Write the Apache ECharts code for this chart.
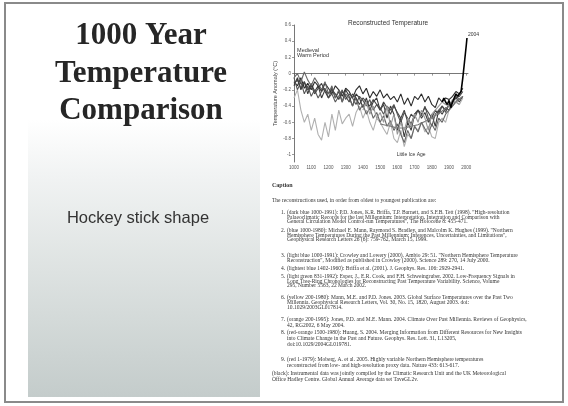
<!DOCTYPE html>
<html><head><meta charset="utf-8">
<script src="https://cdn.jsdelivr.net/npm/echarts@6/dist/echarts.min.js"></script>
<style>html,body{margin:0;padding:0;background:#fff}#c{width:568px;height:406px}</style>
</head><body><div id="c"></div><script>
// ---- data ----
const years = [1000,1020,1040,1060,1080,1100,1120,1140,1160,1180,
  1200,1220,1240,1260,1280,1300,1320,1340,1360,1380,
  1400,1420,1440,1460,1480,1500,1520,1540,1560,1580,
  1600,1620,1640,1660,1680,1700,1720,1740,1760,1780,
  1800,1820,1840,1860,1880,1900,1920,1940,1960,1980];
const jones1998 = [-0.15,-0.05,-0.20,-0.10,-0.25,-0.12,-0.22,-0.15,-0.30,-0.20,
  -0.25,-0.18,-0.30,-0.22,-0.35,-0.20,-0.28,-0.40,-0.25,-0.30,
  -0.42,-0.30,-0.45,-0.35,-0.30,-0.45,-0.38,-0.55,-0.40,-0.50,
  -0.70,-0.55,-0.78,-0.60,-0.70,-0.50,-0.45,-0.55,-0.48,-0.60,
  -0.50,-0.65,-0.45,-0.50,-0.42,-0.45,-0.35,-0.30,-0.35,-0.28];
const mann1999 = [-0.10,-0.15,-0.05,-0.18,-0.12,-0.20,-0.10,-0.15,-0.22,-0.12,
  -0.18,-0.25,-0.15,-0.20,-0.28,-0.18,-0.22,-0.30,-0.20,-0.15,
  -0.25,-0.18,-0.30,-0.22,-0.28,-0.20,-0.30,-0.25,-0.32,-0.28,
  -0.35,-0.25,-0.38,-0.30,-0.40,-0.28,-0.32,-0.25,-0.35,-0.28,
  -0.38,-0.42,-0.30,-0.35,-0.30,-0.32,-0.28,-0.22,-0.25,-0.18];
const crowley2000 = [-0.05,-0.20,-0.10,-0.25,-0.15,-0.28,-0.20,-0.30,-0.22,-0.18,
  -0.30,-0.25,-0.35,-0.28,-0.20,-0.32,-0.25,-0.30,-0.38,-0.28,
  -0.33,-0.40,-0.32,-0.45,-0.38,-0.42,-0.50,-0.40,-0.45,-0.38,
  -0.50,-0.60,-0.48,-0.55,-0.62,-0.50,-0.45,-0.52,-0.40,-0.55,
  -0.65,-0.50,-0.45,-0.40,-0.48,-0.38,-0.35,-0.28,-0.32,null];
const esper2002 = [-0.30,-0.20,-0.45,-0.60,-0.50,-0.70,-0.55,-0.75,-0.82,-0.60,
  -0.78,-0.50,-0.70,-0.45,-0.62,-0.55,-0.50,-0.65,-0.48,-0.40,
  -0.55,-0.45,-0.60,-0.70,-0.55,-0.60,-0.68,-0.75,-0.60,-0.80,
  -0.85,-0.70,-0.90,-0.75,-0.80,-0.65,-0.70,-0.60,-0.72,-0.65,
  -0.78,-0.80,-0.60,-0.55,-0.60,-0.45,-0.40,-0.35,-0.38,-0.30];
const moberg2005 = [-0.05,0.00,-0.10,0.02,-0.08,-0.15,-0.05,-0.12,-0.20,-0.10,
  -0.25,-0.15,-0.30,-0.20,-0.35,-0.25,-0.30,-0.40,-0.30,-0.45,
  -0.38,-0.50,-0.42,-0.55,-0.48,-0.60,-0.52,-0.65,-0.58,-0.70,
  -0.62,-0.75,-0.85,-0.70,-0.80,-0.65,-0.72,-0.60,-0.68,-0.75,
  -0.62,-0.70,-0.55,-0.60,-0.50,-0.45,-0.40,-0.35,-0.32,-0.28];
const mannJones2003 = [-0.12,-0.08,-0.18,-0.10,-0.20,-0.15,-0.25,-0.18,-0.12,-0.22,
  -0.30,-0.20,-0.25,-0.32,-0.22,-0.28,-0.35,-0.25,-0.30,-0.38,
  -0.30,-0.35,-0.40,-0.32,-0.38,-0.45,-0.35,-0.42,-0.50,-0.40,
  -0.48,-0.55,-0.45,-0.60,-0.50,-0.55,-0.45,-0.50,-0.42,-0.48,
  -0.55,-0.45,-0.50,-0.40,-0.45,-0.38,-0.35,-0.30,-0.28,-0.22];
const huang2004 = [null,null,null,null,null,null,null,null,null,null,
  null,null,null,null,null,null,null,null,null,null,
  null,null,null,null,null,-0.62,-0.63,-0.64,-0.65,-0.66,
  -0.67,-0.67,-0.67,-0.66,-0.65,-0.64,-0.63,-0.61,-0.59,-0.57,
  -0.55,-0.52,-0.49,-0.46,-0.43,-0.40,-0.37,-0.34,-0.31,-0.28];
const briffa2001 = [null,null,null,null,null,null,null,null,null,null,
  null,null,null,null,null,null,null,null,null,null,
  -0.45,-0.35,-0.50,-0.40,-0.55,-0.48,-0.60,-0.40,-0.65,-0.50,
  -0.75,-0.60,-0.70,-0.55,-0.65,-0.50,-0.60,-0.45,-0.55,-0.70,
  -0.50,-0.45,-0.40,-0.35,-0.38,-0.40,-0.32,-0.35,-0.38,null];
const instYears = [1860,1870,1880,1890,1900,1910,1920,1930,1940,1950,1960,1970,1980,1990,2000,2004];
const instrumental = [-0.35,-0.30,-0.35,-0.38,-0.33,-0.42,-0.35,-0.30,-0.25,-0.28,-0.25,-0.22,-0.05,0.15,0.35,0.44];
const yTicks = [-1,-0.8,-0.6,-0.4,-0.2,0,0.2,0.4,0.6];

const slideTitle = ['1000 Year', 'Temperature', 'Comparison'];
const subtitle = 'Hockey stick shape';
const chartTitle = 'Reconstructed Temperature';
const yName = 'Temperature Anomaly (\u00B0C)';

const captionItems = [
  {n:'1.', y:213, lh:4.5, lines:[
    '(dark blue 1000-1991): P.D. Jones, K.R. Briffa, T.P. Barnett, and S.F.B. Tett (1998). "High-resolution',
    'Palaeoclimatic Records for the last Millennium: Interpretation, Integration and Comparison with',
    'General Circulation Model Control-run Temperatures", The Holocene 8: 455-471.']},
  {n:'2.', y:231, lh:4.5, lines:[
    '(blue 1000-1980): Michael E. Mann, Raymond S. Bradley, and Malcolm K. Hughes (1999). "Northern',
    'Hemisphere Temperatures During the Past Millennium: Inferences, Uncertainties, and Limitations",',
    'Geophysical Research Letters 26 (6): 759-762, March 15, 1999.']},
  {n:'3.', y:256, lh:4.5, lines:[
    '(light blue 1000-1991): Crowley and Lowery (2000). Ambio 29: 51. "Northern Hemisphere Temperature',
    'Reconstruction", Modified as published in Crowley (2000). Science 289: 270, 14 July 2000.']},
  {n:'4.', y:269, lh:4.5, lines:[
    '(lightest blue 1402-1960): Briffa et al. (2001). J. Geophys. Res. 106: 2929-2941.']},
  {n:'5.', y:277, lh:4.3, lines:[
    '(light green 831-1992): Esper, J., E.R. Cook, and F.H. Schweingruber. 2002. Low-Frequency Signals in',
    'Long Tree-Ring Chronologies for Reconstructing Past Temperature Variability. Science, Volume',
    '295, Number 5563, 22 March 2002.']},
  {n:'6.', y:298, lh:4.7, lines:[
    '(yellow 200-1980): Mann, M.E. and P.D. Jones. 2003. Global Surface Temperatures over the Past Two',
    'Millennia. Geophysical Research Letters, Vol. 30, No. 15, 1820, August 2003. doi:',
    '10.1029/2003GL017814.']},
  {n:'7.', y:320, lh:5.5, lines:[
    '(orange 200-1995): Jones, P.D. and M.E. Mann. 2004. Climate Over Past Millennia. Reviews of Geophysics,',
    '42, RG2002, 6 May 2004.']},
  {n:'8.', y:333, lh:6, lines:[
    '(red-orange 1500-1980): Huang, S. 2004. Merging Information from Different Resources for New Insights',
    'into Climate Change in the Past and Future. Geophys. Res. Lett. 31, L13205,',
    'doi:10.1029/2004GL019781.']},
  {n:'9.', y:360, lh:5.3, lines:[
    '(red 1-1979): Moberg, A. et al. 2005. Highly variable Northern Hemisphere temperatures',
    'reconstructed from low- and high-resolution proxy data. Nature 433: 613-617.']}
];
const captionHead = 'Caption';
const captionIntro = 'The reconstructions used, in order from oldest to youngest publication are:';
const captionBlack = [
  '(black): Instrumental data was jointly compiled by the Climatic Research Unit and the UK Meteorological',
  'Office Hadley Centre. Global Annual Average data set TaveGL2v.'];

// ---- build ----
const chart = echarts.init(document.getElementById('c'), null, {renderer:'canvas'});
const pairs = (xs, vs) => xs.map((x,i) => [x, vs[i]]);
const recon = [
  [jones1998, '#3a3a3a'], [mann1999, '#2a2a2a'], [crowley2000, '#555'],
  [esper2002, '#b0b0b0'], [moberg2005, '#666'], [mannJones2003, '#444'],
  [huang2004, '#777'], [briffa2001, '#999']
];
const series = recon.map(([vals, col]) => ({
  type:'line', data: pairs(years, vals), showSymbol:false, connectNulls:false,
  lineStyle:{width:1.1, color:col}, itemStyle:{color:col}, silent:true
}));
series.push({
  type:'line', data: pairs(instYears, instrumental), showSymbol:false,
  lineStyle:{width:1.6, color:'#000'}, silent:true, z:5,
  markPoint:{symbol:'circle', symbolSize:0, silent:true, data:[
    {coord:[1018, 0.255], label:{show:true, position:'right', distance:0, formatter:'Medieval\nWarm Period',
      fontSize:5.5, lineHeight:5.5, color:'#333', fontFamily:'Liberation Sans'}},
    {coord:[1680, -1.0], label:{show:true, position:'inside', formatter:'Little Ice Age',
      fontSize:5, color:'#333', fontFamily:'Liberation Sans'}},
    {coord:[2004, 0.44], label:{show:true, position:'right', distance:1, offset:[0,-3], formatter:'2004',
      fontSize:5, color:'#333', fontFamily:'Liberation Sans'}}
  ]}
});

const capFont = '5.5px "Liberation Serif"';
const graphics = [];
graphics.push({type:'rect', z:-10, shape:{x:5, y:3, width:558, height:399},
  style:{fill:'#fff', stroke:'#8a8a8a', lineWidth:2}});
graphics.push({type:'rect', z:-9, shape:{x:28, y:120, width:232, height:277},
  style:{fill:new echarts.graphic.LinearGradient(0,0,0,1,[
    {offset:0, color:'#ffffff'}, {offset:0.2, color:'#f1f3f3'},
    {offset:0.55, color:'#dde2e1'}, {offset:1, color:'#c4cccb'}])}});
slideTitle.forEach((t,i) => graphics.push({type:'text', x:141, y:36 + i*37.5,
  style:{text:t, fill:'#262626', font:'bold 31px "Liberation Serif"', textAlign:'center', textVerticalAlign:'middle'}}));
graphics.push({type:'text', x:138, y:218,
  style:{text:subtitle, fill:'#333', font:'16.5px "Liberation Sans"', textAlign:'center', textVerticalAlign:'middle'}});
graphics.push({type:'text', x:272, y:185,
  style:{text:captionHead, fill:'#333', font:'bold 6px "Liberation Serif"', textVerticalAlign:'middle'}});
graphics.push({type:'text', x:272, y:201,
  style:{text:captionIntro, fill:'#333', font:capFont, textVerticalAlign:'middle'}});
captionItems.forEach(it => {
  graphics.push({type:'text', x:281, y:it.y,
    style:{text:it.n, fill:'#333', font:capFont, textVerticalAlign:'middle'}});
  it.lines.forEach((ln,j) => graphics.push({type:'text', x:287, y:it.y + j*it.lh,
    style:{text:ln, fill:'#333', font:capFont, textVerticalAlign:'middle'}}));
});
captionBlack.forEach((ln,j) => graphics.push({type:'text', x:272, y:374 + j*5.2,
  style:{text:ln, fill:'#333', font:capFont, textVerticalAlign:'middle'}}));

chart.setOption({
  animation:false,
  backgroundColor:'#fff',
  title:{text:chartTitle, left:343, top:15, textStyle:{fontSize:6.5, fontWeight:'normal', color:'#333', fontFamily:'Liberation Sans'}},
  grid:{left:294, right:100, top:25, bottom:244, containLabel:false},
  xAxis:{type:'value', min:1000, max:2010, interval:100,
    axisLine:{lineStyle:{color:'#555', width:0.8}}, axisTick:{length:2, lineStyle:{color:'#555', width:0.6}},
    splitLine:{show:false},
    axisLabel:{fontSize:4.5, color:'#555', margin:3, fontFamily:'Liberation Sans', showMaxLabel:false,
      formatter: v => String(v)}},
  yAxis:{type:'value', min:-1.09, max:0.6, name:yName, nameLocation:'middle', nameGap:16, nameRotate:90,
    nameTextStyle:{fontSize:5.5, color:'#444', fontFamily:'Liberation Sans'},
    axisLine:{show:true, lineStyle:{color:'#555', width:0.8}},
    axisTick:{show:true, length:2, customValues:yTicks, lineStyle:{color:'#555', width:0.6}},
    splitLine:{show:false},
    axisLabel:{fontSize:4.5, color:'#555', margin:3, customValues:yTicks, fontFamily:'Liberation Sans'}},
  graphic:graphics,
  series:series
});
</script></body></html>
